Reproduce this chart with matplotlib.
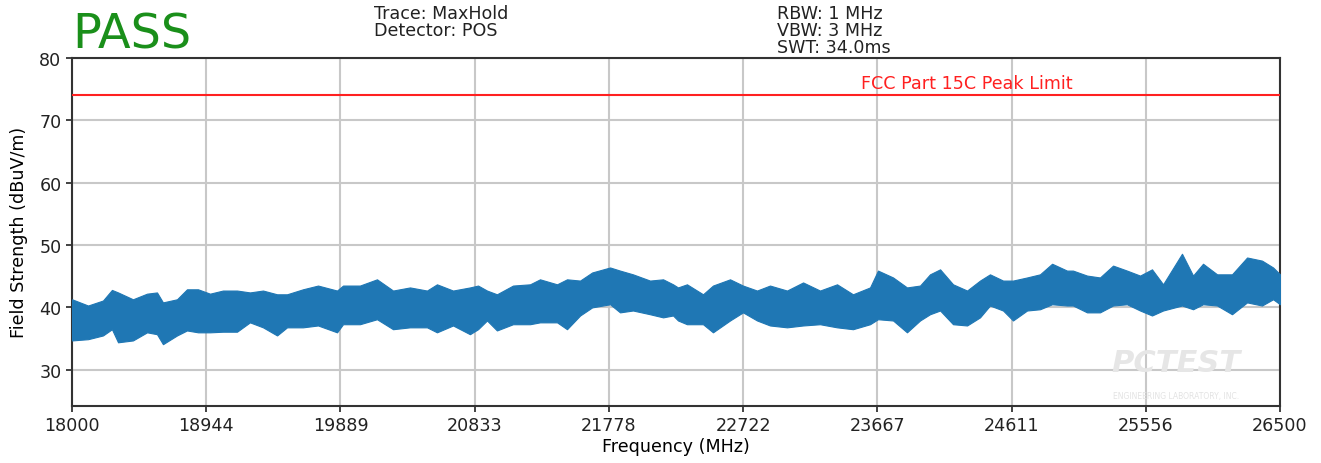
"""Spurious emissions plot, 18-26.5 GHz, max-hold trace vs FCC 15C peak limit."""

import numpy as np
import matplotlib
matplotlib.use("Agg")
import matplotlib.pyplot as plt

# Trace envelope (MHz, dBuV/m)
freq_mhz = [
    18000, 18113, 18218, 18281, 18324, 18429, 18528, 18598, 18640, 18739,
    18809, 18887, 18971, 19062, 19161, 19252, 19344, 19443, 19513, 19625,
    19731, 19865, 19907, 20026, 20146, 20259, 20378, 20498, 20568, 20681,
    20800, 20857, 20920, 20990, 21103, 21223, 21293, 21413, 21483, 21575,
    21660, 21786, 21856, 21947, 22067, 22159, 22229, 22264, 22327, 22440,
    22510, 22630, 22721, 22820, 22911, 23031, 23144, 23263, 23383, 23495,
    23615, 23671, 23777, 23875, 23967, 24037, 24108, 24199, 24298, 24389,
    24459, 24551, 24621, 24720, 24811, 24896, 25001, 25043, 25142, 25233,
    25325, 25423, 25515, 25599, 25677, 25810, 25888, 25958, 26057, 26162,
    26268, 26373, 26451, 26500,
]
trace_hi = [
    41.3, 40.3, 41.1, 42.8, 42.4, 41.3, 42.2, 42.4, 40.8, 41.3,
    42.9, 42.9, 42.2, 42.7, 42.7, 42.4, 42.7, 42.1, 42.1, 42.9,
    43.5, 42.7, 43.5, 43.5, 44.5, 42.7, 43.2, 42.7, 43.7, 42.7,
    43.2, 43.5, 42.7, 42.1, 43.5, 43.7, 44.5, 43.7, 44.5, 44.3,
    45.6, 46.4, 45.9, 45.3, 44.3, 44.5, 43.7, 43.2, 43.7, 42.1,
    43.5, 44.5, 43.5, 42.7, 43.5, 42.7, 44.0, 42.7, 43.7, 42.1,
    43.2, 45.9, 44.8, 43.2, 43.5, 45.3, 46.1, 43.7, 42.7, 44.3,
    45.3, 44.3, 44.3, 44.8, 45.3, 47.0, 45.9, 45.9, 45.1, 44.8,
    46.7, 45.9, 45.1, 46.1, 43.7, 48.6, 45.1, 47.0, 45.3, 45.3,
    48.0, 47.5, 46.4, 45.3,
]
trace_lo = [
    34.7, 34.9, 35.5, 36.5, 34.4, 34.7, 36.0, 35.7, 34.1, 35.5,
    36.3, 36.0, 36.0, 36.1, 36.1, 37.6, 36.8, 35.5, 36.8, 36.8,
    37.1, 36.0, 37.3, 37.3, 38.1, 36.5, 36.8, 36.8, 36.0, 37.1,
    35.7, 36.5, 37.9, 36.3, 37.3, 37.3, 37.6, 37.6, 36.5, 38.7,
    40.0, 40.5, 39.2, 39.5, 38.9, 38.4, 38.7, 37.9, 37.3, 37.3,
    36.0, 37.9, 39.2, 37.9, 37.1, 36.8, 37.1, 37.3, 36.8, 36.5,
    37.3, 38.1, 37.9, 36.0, 37.9, 38.9, 39.5, 37.3, 37.1, 38.4,
    40.3, 39.5, 37.9, 39.5, 39.7, 40.5, 40.3, 40.3, 39.2, 39.2,
    40.3, 40.5, 39.5, 38.7, 39.5, 40.3, 39.7, 40.5, 40.3, 38.9,
    40.8, 40.3, 41.3, 40.5,
]

limit_dbuv = 74.0
freq_ticks = [18000, 18944, 19889, 20833, 21778, 22722, 23667, 24611, 25556, 26500]
level_ticks = [30, 40, 50, 60, 70, 80]

fig = plt.figure(figsize=(13.21, 4.64), dpi=100)
ax = fig.add_axes([0.0545, 0.123, 0.9145, 0.750])

fs = 12.6
trace_color = "#1f77b4"

ax.fill_between(freq_mhz, trace_lo, trace_hi, color=trace_color,
                linewidth=0.8, edgecolor=trace_color, zorder=3)
ax.axhline(limit_dbuv, color="#ff2020", linewidth=1.5, zorder=4)
ax.text(24297, limit_dbuv + 0.6, "FCC Part 15C Peak Limit", color="#ff2020",
        ha="center", va="bottom", fontsize=fs)

ax.set_xlim(18000, 26500)
ax.set_ylim(24.2, 80)
ax.set_xticks(freq_ticks)
ax.set_xticklabels([str(t) for t in freq_ticks])
ax.set_yticks(level_ticks)
ax.tick_params(labelsize=fs, length=4, width=1.2, colors="#222")
ax.grid(True, color="#c8c8c8", linewidth=1.5)
ax.set_axisbelow(True)
for sp in ax.spines.values():
    sp.set_color("#333")
    sp.set_linewidth(1.5)

ax.set_xlabel("Frequency (MHz)", fontsize=fs, labelpad=2)
ax.set_ylabel("Field Strength (dBuV/m)", fontsize=fs, labelpad=8)

# faint watermark, lower right
ax.text(0.86, 0.125, "PCTEST", transform=ax.transAxes, fontsize=22,
        fontweight="bold", fontstyle="italic", color="#e6e6e6",
        ha="left", va="center", zorder=1, clip_on=True)
ax.text(0.862, 0.03, "ENGINEERING LABORATORY, INC.", transform=ax.transAxes,
        fontsize=5.5, color="#e3e3e3", ha="left", va="center", zorder=1)

# header
fig.text(0.055, 0.895, "PASS", color="#1a8f1a", fontsize=34.5,
         ha="left", va="baseline")
fig.text(0.283, 0.99, "Trace: MaxHold\nDetector: POS", fontsize=fs,
         ha="left", va="top", linespacing=0.95, color="#222")
fig.text(0.588, 0.99, "RBW: 1 MHz\nVBW: 3 MHz\nSWT: 34.0ms", fontsize=fs,
         ha="left", va="top", linespacing=0.95, color="#222")

fig.savefig("out.png", dpi=100)
